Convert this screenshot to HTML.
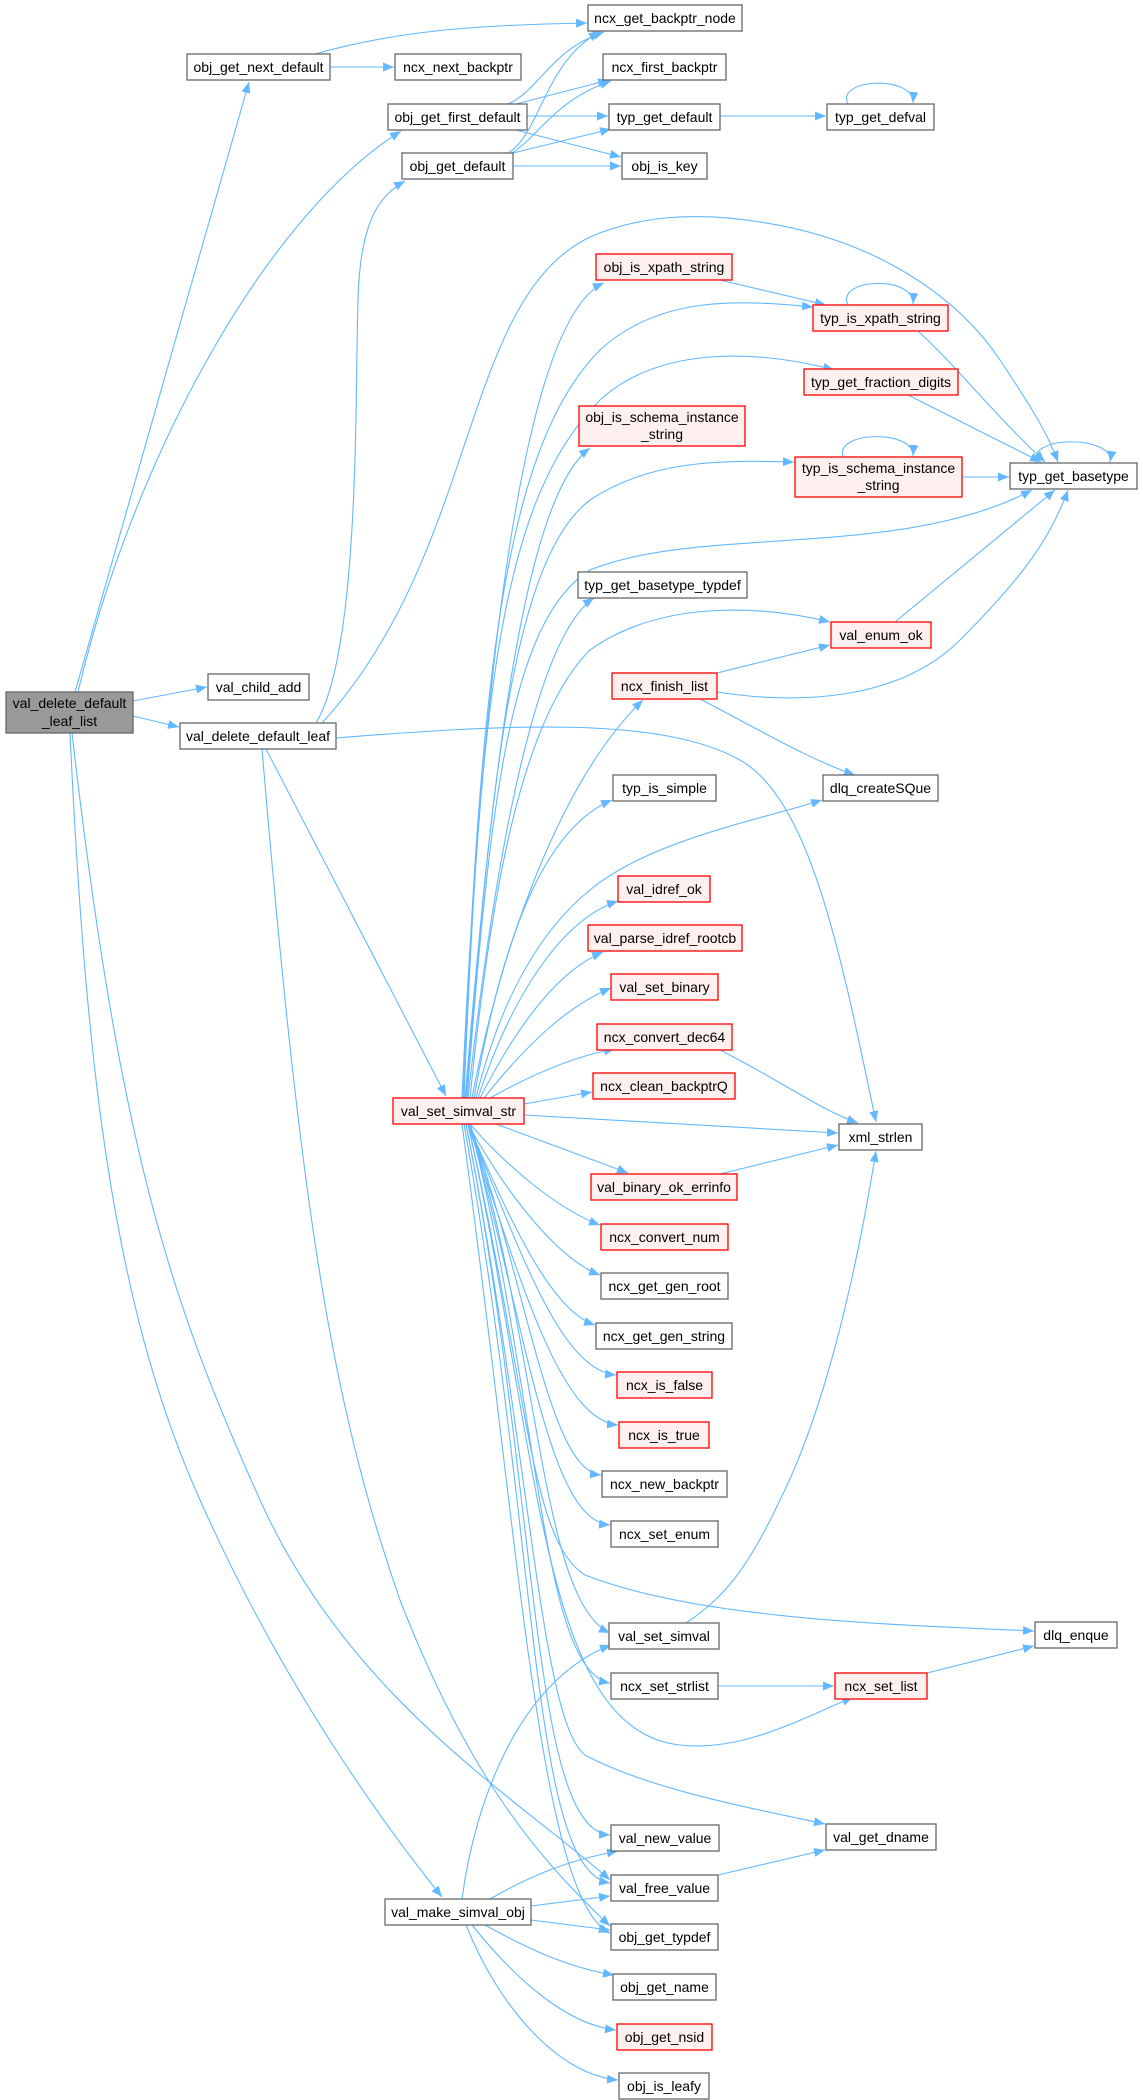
<!DOCTYPE html>
<html><head><meta charset="utf-8"><style>
html,body{margin:0;padding:0;background:#fff;}
svg{display:block;}
text{font-family:"Liberation Sans",Arial,sans-serif;font-size:14px;fill:#000;}
.e{fill:none;stroke:#63b8ff;stroke-width:1.1;marker-end:url(#a);}
.n rect{fill:#fff;stroke:#666;stroke-width:1.3;}
.r rect{fill:#fff0f0;stroke:#ff0000;stroke-width:1.3;}
.g rect{fill:#999;stroke:#666;stroke-width:1.3;}
</style></head><body>
<svg width="1139" height="2100" viewBox="0 0 1139 2100" xmlns="http://www.w3.org/2000/svg">
<defs><marker id="a" markerUnits="userSpaceOnUse" markerWidth="12" markerHeight="10" refX="11" refY="4.5" orient="auto"><path d="M0,0 L11,4.5 L0,9 z" fill="#63b8ff"/></marker></defs>

<!-- edges -->
<g>
<!-- from root -->
<path class="e" d="M75,692 L249,82"/>
<path class="e" d="M78,692 C130,470 260,220 401,131"/>
<path class="e" d="M133,701 L207,687"/>
<path class="e" d="M133,716 L179,727"/>
<path class="e" d="M70,733 C85,1050 110,1300 200,1500 C280,1680 380,1820 442,1897"/>
<path class="e" d="M72,733 C120,1150 170,1300 260,1500 C350,1700 520,1800 610,1880"/>
<!-- val_delete_default_leaf -->
<path class="e" d="M316,723 C360,650 355,400 358,300 C360,220 380,195 405,181"/>
<path class="e" d="M322,723 C480,550 460,300 590,237 C640,215 700,212 760,222 C880,240 960,300 1000,360 C1040,420 1050,440 1058,462"/>
<path class="e" d="M336,738 C500,725 660,715 740,760 C810,800 840,950 876,1122"/>
<path class="e" d="M266,749 L446,1096"/>
<path class="e" d="M262,749 C300,1200 330,1400 400,1600 C470,1780 540,1860 610,1926"/>
<!-- top cluster -->
<path class="e" d="M315,54 C400,30 480,25 587,23"/>
<path class="e" d="M330,67 L394,67"/>
<path class="e" d="M508,104 C540,90 550,50 604,32"/>
<path class="e" d="M516,104 L609,80"/>
<path class="e" d="M527,116 L608,116"/>
<path class="e" d="M512,129 L621,157"/>
<path class="e" d="M508,153 C540,135 545,60 600,32"/>
<path class="e" d="M512,153 C540,135 555,100 611,81"/>
<path class="e" d="M513,153 L611,129"/>
<path class="e" d="M513,166 L621,166"/>
<path class="e" d="M720,116 L826,116"/>
<path class="e" d="M848,104 C835,78 915,75 913,103"/>
<!-- right side -->
<path class="e" d="M720,280 L826,305"/>
<path class="e" d="M848,305 C835,278 915,275 913,304"/>
<path class="e" d="M918,331 C960,370 990,410 1045,462"/>
<path class="e" d="M908,395 L1041,462"/>
<path class="e" d="M1037,463 C1025,435 1115,435 1110,462"/>
<path class="e" d="M843,457 C835,430 915,430 913,456"/>
<path class="e" d="M962,477 L1009,477"/>
<path class="e" d="M895,622 L1055,490"/>
<path class="e" d="M717,692 C800,705 900,700 960,640 C1020,580 1050,540 1068,490"/>
<path class="e" d="M717,673 L830,645"/>
<path class="e" d="M700,699 C760,730 810,760 855,775"/>
<path class="e" d="M720,1174 L838,1145"/>
<path class="e" d="M718,1049 C780,1080 820,1110 858,1123"/>
<path class="e" d="M686,1623 C720,1600 745,1575 780,1500 C830,1400 860,1250 876,1151"/>
<path class="e" d="M718,1686 L834,1686"/>
<path class="e" d="M927,1673 L1034,1646"/>
<path class="e" d="M718,1875 L825,1850"/>
<!-- val_set_simval_str upward fan -->
<path class="e" d="M462,1098 C480,700 520,320 604,283"/>
<path class="e" d="M463,1098 C480,700 500,450 600,350 C660,295 740,300 813,307"/>
<path class="e" d="M464,1098 C480,700 500,500 600,400 C660,345 760,350 834,370"/>
<path class="e" d="M465,1098 C490,800 520,500 590,448"/>
<path class="e" d="M466,1098 C490,800 510,560 590,500 C650,460 720,460 794,462"/>
<path class="e" d="M467,1098 C490,800 510,620 590,570 C700,525 900,560 1032,490"/>
<path class="e" d="M468,1098 C490,900 530,640 594,598"/>
<path class="e" d="M470,1098 C490,900 520,720 590,650 C660,600 760,605 830,622"/>
<path class="e" d="M472,1098 C500,950 560,780 643,700"/>
<path class="e" d="M474,1098 C500,950 540,830 612,800"/>
<path class="e" d="M476,1098 C500,1000 540,930 590,890 C650,840 760,820 822,800"/>
<path class="e" d="M478,1098 C510,1000 560,920 618,901"/>
<path class="e" d="M480,1098 C520,1020 560,970 603,952"/>
<path class="e" d="M484,1098 C530,1040 570,1005 611,988"/>
<path class="e" d="M490,1098 C540,1070 580,1055 615,1049"/>
<path class="e" d="M524,1104 L592,1092"/>
<path class="e" d="M524,1115 L838,1133"/>
<path class="e" d="M496,1124 L628,1173"/>
<!-- downward fan -->
<path class="e" d="M470,1124 C510,1170 560,1210 600,1225"/>
<path class="e" d="M468,1124 C510,1200 560,1260 600,1275"/>
<path class="e" d="M468,1124 C510,1220 550,1310 595,1325"/>
<path class="e" d="M468,1124 C520,1250 560,1370 616,1375"/>
<path class="e" d="M468,1124 C520,1280 560,1420 618,1425"/>
<path class="e" d="M470,1124 C530,1300 550,1470 601,1475"/>
<path class="e" d="M470,1124 C530,1350 550,1520 610,1525"/>
<path class="e" d="M470,1124 C540,1350 540,1600 610,1633"/>
<path class="e" d="M470,1124 C540,1400 540,1670 610,1683"/>
<path class="e" d="M468,1124 C530,1400 530,1540 585,1575 C700,1620 900,1625 1034,1631"/>
<path class="e" d="M468,1124 C540,1450 540,1730 680,1745 C740,1752 800,1720 853,1697"/>
<path class="e" d="M466,1124 C530,1450 540,1720 585,1755 C650,1790 760,1810 825,1824"/>
<path class="e" d="M466,1124 C540,1500 530,1830 610,1835"/>
<path class="e" d="M464,1124 C540,1550 530,1870 610,1883"/>
<path class="e" d="M462,1124 C520,1550 540,1900 610,1933"/>
<!-- val_make_simval_obj -->
<path class="e" d="M462,1899 C475,1800 520,1680 611,1645"/>
<path class="e" d="M490,1899 C540,1870 580,1858 618,1851"/>
<path class="e" d="M531,1906 L610,1896"/>
<path class="e" d="M531,1920 L610,1930"/>
<path class="e" d="M485,1925 C530,1950 570,1968 614,1975"/>
<path class="e" d="M472,1925 C520,1985 570,2025 616,2030"/>
<path class="e" d="M466,1925 C500,2010 560,2075 618,2080"/>
</g>

<!-- nodes -->
<g class="g"><rect x="6" y="692" width="127" height="41"/><text x="69.5" y="708" text-anchor="middle">val_delete_default</text><text x="69.5" y="726" text-anchor="middle">_leaf_list</text></g>
<g class="n"><rect x="208" y="674" width="101" height="26"/><text x="258.5" y="692" text-anchor="middle">val_child_add</text></g>
<g class="n"><rect x="180" y="723" width="156" height="26"/><text x="258" y="741" text-anchor="middle">val_delete_default_leaf</text></g>
<g class="n"><rect x="187" y="54" width="143" height="26"/><text x="258.5" y="72" text-anchor="middle">obj_get_next_default</text></g>
<g class="n"><rect x="588" y="5" width="154" height="26"/><text x="665" y="23" text-anchor="middle">ncx_get_backptr_node</text></g>
<g class="n"><rect x="395" y="54" width="126" height="26"/><text x="458" y="72" text-anchor="middle">ncx_next_backptr</text></g>
<g class="n"><rect x="603" y="54" width="123" height="26"/><text x="664.5" y="72" text-anchor="middle">ncx_first_backptr</text></g>
<g class="n"><rect x="388" y="104" width="139" height="26"/><text x="457.5" y="122" text-anchor="middle">obj_get_first_default</text></g>
<g class="n"><rect x="609" y="104" width="111" height="26"/><text x="664.5" y="122" text-anchor="middle">typ_get_default</text></g>
<g class="n"><rect x="827" y="104" width="107" height="26"/><text x="880.5" y="122" text-anchor="middle">typ_get_defval</text></g>
<g class="n"><rect x="402" y="153" width="111" height="26"/><text x="457.5" y="171" text-anchor="middle">obj_get_default</text></g>
<g class="n"><rect x="622" y="153" width="85" height="26"/><text x="664.5" y="171" text-anchor="middle">obj_is_key</text></g>
<g class="r"><rect x="596" y="254" width="136" height="26"/><text x="664" y="272" text-anchor="middle">obj_is_xpath_string</text></g>
<g class="r"><rect x="813" y="305" width="135" height="26"/><text x="880.5" y="323" text-anchor="middle">typ_is_xpath_string</text></g>
<g class="r"><rect x="804" y="369" width="154" height="26"/><text x="881" y="387" text-anchor="middle">typ_get_fraction_digits</text></g>
<g class="r"><rect x="579" y="406" width="166" height="40"/><text x="662" y="422" text-anchor="middle">obj_is_schema_instance</text><text x="662" y="439" text-anchor="middle">_string</text></g>
<g class="r"><rect x="795" y="457" width="167" height="40"/><text x="878.5" y="473" text-anchor="middle">typ_is_schema_instance</text><text x="878.5" y="490" text-anchor="middle">_string</text></g>
<g class="n"><rect x="1010" y="463" width="127" height="26"/><text x="1073.5" y="481" text-anchor="middle">typ_get_basetype</text></g>
<g class="n"><rect x="578" y="572" width="169" height="26"/><text x="662.5" y="590" text-anchor="middle">typ_get_basetype_typdef</text></g>
<g class="r"><rect x="831" y="622" width="100" height="26"/><text x="881" y="640" text-anchor="middle">val_enum_ok</text></g>
<g class="r"><rect x="612" y="673" width="105" height="26"/><text x="664.5" y="691" text-anchor="middle">ncx_finish_list</text></g>
<g class="n"><rect x="613" y="775" width="103" height="26"/><text x="664.5" y="793" text-anchor="middle">typ_is_simple</text></g>
<g class="n"><rect x="823" y="775" width="115" height="26"/><text x="880.5" y="793" text-anchor="middle">dlq_createSQue</text></g>
<g class="r"><rect x="618" y="876" width="92" height="26"/><text x="664" y="894" text-anchor="middle">val_idref_ok</text></g>
<g class="r"><rect x="588" y="925" width="154" height="26"/><text x="665" y="943" text-anchor="middle">val_parse_idref_rootcb</text></g>
<g class="r"><rect x="611" y="974" width="107" height="26"/><text x="664.5" y="992" text-anchor="middle">val_set_binary</text></g>
<g class="r"><rect x="597" y="1024" width="135" height="26"/><text x="664.5" y="1042" text-anchor="middle">ncx_convert_dec64</text></g>
<g class="r"><rect x="593" y="1073" width="142" height="26"/><text x="664" y="1091" text-anchor="middle">ncx_clean_backptrQ</text></g>
<g class="r"><rect x="393" y="1098" width="131" height="26"/><text x="458.5" y="1116" text-anchor="middle">val_set_simval_str</text></g>
<g class="n"><rect x="839" y="1124" width="83" height="26"/><text x="880.5" y="1142" text-anchor="middle">xml_strlen</text></g>
<g class="r"><rect x="591" y="1174" width="146" height="26"/><text x="664" y="1192" text-anchor="middle">val_binary_ok_errinfo</text></g>
<g class="r"><rect x="601" y="1224" width="127" height="26"/><text x="664.5" y="1242" text-anchor="middle">ncx_convert_num</text></g>
<g class="n"><rect x="601" y="1273" width="127" height="26"/><text x="664.5" y="1291" text-anchor="middle">ncx_get_gen_root</text></g>
<g class="n"><rect x="596" y="1323" width="136" height="26"/><text x="664" y="1341" text-anchor="middle">ncx_get_gen_string</text></g>
<g class="r"><rect x="617" y="1372" width="95" height="26"/><text x="664.5" y="1390" text-anchor="middle">ncx_is_false</text></g>
<g class="r"><rect x="619" y="1422" width="90" height="26"/><text x="664" y="1440" text-anchor="middle">ncx_is_true</text></g>
<g class="n"><rect x="602" y="1471" width="125" height="26"/><text x="664.5" y="1489" text-anchor="middle">ncx_new_backptr</text></g>
<g class="n"><rect x="611" y="1521" width="107" height="26"/><text x="664.5" y="1539" text-anchor="middle">ncx_set_enum</text></g>
<g class="n"><rect x="609" y="1623" width="110" height="26"/><text x="664" y="1641" text-anchor="middle">val_set_simval</text></g>
<g class="n"><rect x="1035" y="1622" width="82" height="26"/><text x="1076" y="1640" text-anchor="middle">dlq_enque</text></g>
<g class="n"><rect x="611" y="1673" width="107" height="26"/><text x="664.5" y="1691" text-anchor="middle">ncx_set_strlist</text></g>
<g class="r"><rect x="835" y="1673" width="92" height="26"/><text x="881" y="1691" text-anchor="middle">ncx_set_list</text></g>
<g class="n"><rect x="611" y="1825" width="108" height="26"/><text x="665" y="1843" text-anchor="middle">val_new_value</text></g>
<g class="n"><rect x="826" y="1824" width="110" height="26"/><text x="881" y="1842" text-anchor="middle">val_get_dname</text></g>
<g class="n"><rect x="611" y="1875" width="107" height="26"/><text x="664.5" y="1893" text-anchor="middle">val_free_value</text></g>
<g class="n"><rect x="385" y="1899" width="146" height="26"/><text x="458" y="1917" text-anchor="middle">val_make_simval_obj</text></g>
<g class="n"><rect x="611" y="1924" width="107" height="26"/><text x="664.5" y="1942" text-anchor="middle">obj_get_typdef</text></g>
<g class="n"><rect x="613" y="1974" width="103" height="26"/><text x="664.5" y="1992" text-anchor="middle">obj_get_name</text></g>
<g class="r"><rect x="617" y="2024" width="95" height="26"/><text x="664.5" y="2042" text-anchor="middle">obj_get_nsid</text></g>
<g class="n"><rect x="619" y="2073" width="90" height="26"/><text x="664" y="2091" text-anchor="middle">obj_is_leafy</text></g>
</svg>
</body></html>
